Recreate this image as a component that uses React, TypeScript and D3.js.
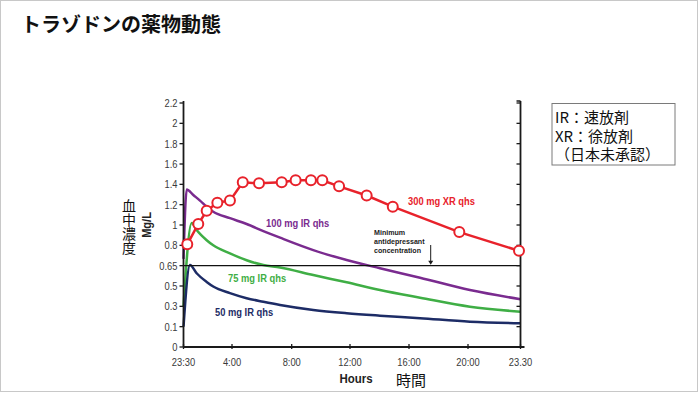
import * as d3 from 'd3';
import React from 'react';

// hours after the 23:30 dose
const xTickHours = [0, 4.5, 8.5, 12.5, 16.5, 20.5, 24];
const xTickLabels = ['23:30', '4:00', '8:00', '12:00', '16:00', '20:00', '23.30'];
const yTicks = [0, 0.1, 0.3, 0.5, 0.65, 0.8, 1, 1.2, 1.4, 1.6, 1.8, 2, 2.2];

const xrHours = [0.35, 1.37, 2.15, 3.14, 4.31, 5.22, 6.31, 7.83, 8.77, 9.82, 10.6, 11.75, 13.63, 15.4, 19.91, 23.9];
const xrValues = [0.81, 1.01, 1.14, 1.22, 1.24, 1.42, 1.41, 1.42, 1.44, 1.44, 1.44, 1.38, 1.29, 1.18, 0.93, 0.76];

const ir100Hours = [0, 0.3, 0.91, 1.53, 2.15, 2.76, 4.31, 5.48, 6.6, 7.72, 9.98, 12.27, 14.53, 17.25, 20.63, 24];
const ir100 = [0.7, 1.35, 1.295, 1.24, 1.18, 1.13, 1.067, 1.01, 0.94, 0.875, 0.765, 0.692, 0.631, 0.561, 0.46, 0.37];
const ir75Hours = [0, 0.76, 1.22, 2.15, 2.76, 4.31, 5.48, 6.6, 7.72, 9.98, 12.27, 14.53, 17.25, 20.63, 24];
const ir75 = [0.3, 1.02, 0.95, 0.85, 0.8, 0.74, 0.69, 0.655, 0.637, 0.581, 0.527, 0.461, 0.385, 0.296, 0.247];
const ir50Hours = [0, 0.6, 1.22, 2.15, 2.76, 4.31, 5.48, 6.6, 7.72, 9.98, 12.27, 14.53, 17.25, 20.63, 24];
const ir50 = [0.1, 0.655, 0.594, 0.53, 0.495, 0.43, 0.38, 0.345, 0.313, 0.264, 0.232, 0.208, 0.183, 0.149, 0.133];

const minConc = 0.65;
const noteLines = ['IR：速放剤', 'XR：徐放剤', '（日本未承認）'];

const SANS = '"Liberation Sans", Arial, sans-serif';
const JP = '"Noto Sans CJK JP", "Noto Sans", sans-serif';

// condensed text: the original uses a narrow face, so squeeze a regular one
const Narrow = ({ x, y, children, anchor = 'start', size = 11, weight = 'normal', fill = '#3a3a3a', sx = 0.85 }: any) => (
  <text transform={`translate(${x},${y}) scale(${sx},1)`} textAnchor={anchor} fontFamily={SANS}
    fontSize={size} fontWeight={weight} fill={fill}>{children}</text>
);

const App = () => {
  const top = 103, bottom = 347;
  const left = 183.5, right = 520.5;

  const x = d3.scaleLinear()
    .domain(xTickHours)
    .range([left, 232, 291.7, 350, 409, 468, right]);

  const step = (bottom - top) / (yTicks.length - 1);
  const y = d3.scaleLinear()
    .domain(yTicks)
    .range(yTicks.map((_, i) => bottom - i * step));

  const curve = d3.line<[number, number]>()
    .x(d => x(d[0]))
    .y(d => y(d[1]))
    .curve(d3.curveMonotoneX);

  const straight = d3.line<[number, number]>()
    .x(d => x(d[0]))
    .y(d => y(d[1]));

  const zip = (h: number[], v: number[]) => h.map((t, i) => [t, v[i]] as [number, number]);

  const series = [
    { pts: zip(ir100Hours, ir100), color: '#7a2b8f' },
    { pts: zip(ir75Hours, ir75), color: '#3fae45' },
    { pts: zip(ir50Hours, ir50), color: '#1d2c66' },
  ];

  const xr = zip(xrHours, xrValues);
  const axisColor = '#1a1a1a';
  const yMin = y(minConc);

  return (
    <svg width={700} height={394} style={{ position: 'absolute', left: 0, top: 0, background: '#fff' }}>
      <rect x={0.5} y={0.5} width={697} height={391} fill="#fff" stroke="#c8c8c8" />
      <text x={21} y={32} fontFamily={JP} fontWeight="bold" fontSize={20} fill="#111">トラゾドンの薬物動態</text>

      {/* IR curves */}
      {series.map((s, i) => (
        <path key={i} d={curve(s.pts) || ''} fill="none" stroke={s.color} strokeWidth={2.5} />
      ))}

      {/* minimum concentration line */}
      <line x1={left} x2={right} y1={yMin} y2={yMin} stroke="#111" strokeWidth={1.3} />

      {/* axes */}
      <line x1={left} x2={left} y1={top - 2} y2={bottom} stroke={axisColor} strokeWidth={1.8} />
      <line x1={right} x2={right} y1={top - 2} y2={bottom} stroke={axisColor} strokeWidth={1.8} />
      <line x1={right - 4} x2={right} y1={top - 2} y2={top - 2} stroke={axisColor} strokeWidth={1.5} />
      <line x1={left} x2={right + 4} y1={bottom} y2={bottom} stroke={axisColor} strokeWidth={1.8} />
      {yTicks.map(v => (
        <g key={v}>
          <line x1={left - 4} x2={left} y1={y(v)} y2={y(v)} stroke={axisColor} strokeWidth={1.3} />
          <line x1={right - 4} x2={right} y1={y(v)} y2={y(v)} stroke={axisColor} strokeWidth={1.3} />
          <Narrow x={left - 6} y={y(v) + 4} anchor="end">{String(v)}</Narrow>
        </g>
      ))}
      {xTickHours.map((h, i) => (
        <g key={h}>
          <line x1={x(h)} x2={x(h)} y1={bottom - 3} y2={bottom + 2} stroke={axisColor} strokeWidth={1.3} />
          <Narrow x={x(h)} y={366} anchor="middle">{xTickLabels[i]}</Narrow>
        </g>
      ))}

      {/* XR series */}
      <path d={straight(xr) || ''} fill="none" stroke="#e8222b" strokeWidth={2.5} />
      {xr.map((d, i) => (
        <circle key={i} cx={x(d[0])} cy={y(d[1])} r={5} fill="#fff" stroke="#e8222b" strokeWidth={2} />
      ))}

      {/* series labels */}
      <Narrow x={408} y={205} weight="bold" fill="#e8222b">300 mg XR qhs</Narrow>
      <Narrow x={266} y={227} weight="bold" fill="#7a2b8f">100 mg IR qhs</Narrow>
      <Narrow x={228} y={282} weight="bold" fill="#3fae45">75 mg IR qhs</Narrow>
      <Narrow x={215} y={316} weight="bold" fill="#1d2c66">50 mg IR qhs</Narrow>

      <Narrow x={374} y={235} size={7.5} weight="bold" fill="#1a1a1a" sx={0.95}>Minimum</Narrow>
      <Narrow x={374} y={244} size={7.5} weight="bold" fill="#1a1a1a" sx={0.95}>antidepressant</Narrow>
      <Narrow x={374} y={253} size={7.5} weight="bold" fill="#1a1a1a" sx={0.95}>concentration</Narrow>
      <line x1={430.7} x2={430.7} y1={245} y2={yMin - 4} stroke="#1a1a1a" strokeWidth={1} />
      <path d={`M428.2,${yMin - 5} L433.2,${yMin - 5} L430.7,${yMin - 1} Z`} fill="#1a1a1a" />

      {/* axis titles */}
      <Narrow x={356} y={383} anchor="middle" size={13.5} weight="bold" fill="#222">Hours</Narrow>
      <text x={411} y={386} textAnchor="middle" fontFamily={JP} fontSize={15} fill="#111">時間</text>
      <text transform="translate(151,225) rotate(-90) scale(0.85,1)" textAnchor="middle" fontFamily={SANS} fontWeight="bold" fontSize={13} fill="#222">Mg/L</text>
      <text x={129} y={199} style={{ writingMode: 'vertical-rl' }} fontFamily={JP} fontSize={14} fill="#111">血中濃度</text>

      {/* note box */}
      <rect x={552} y={103.5} width={123} height={61.5} fill="#fff" stroke="#7a7a7a" />
      <text fontFamily={JP} fontSize={15} fill="#111">
        {noteLines.map((t, i) => (
          <tspan key={t} x={555} y={123 + i * 18.5}>{t}</tspan>
        ))}
      </text>
    </svg>
  );
};

export default App;
